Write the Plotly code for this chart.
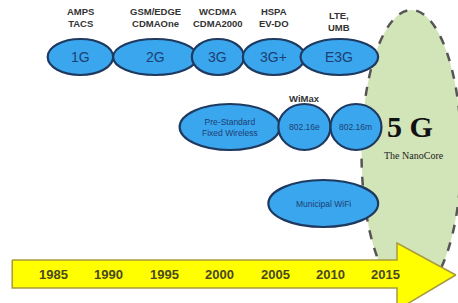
import plotly.graph_objects as go

# ---- data ----
years = [1985, 1990, 1995, 2000, 2005, 2010, 2015]

gen_names = ["1G", "2G", "3G", "3G+", "E3G"]
gen_start = [1984.5, 1990.4, 1997.5, 2002.1, 2007.3]
gen_end = [1990.4, 1998.0, 2002.2, 2007.7, 2014.3]
gen_tech = ["AMPS<br>TACS", "GSM/EDGE<br>CDMAOne", "WCDMA<br>CDMA2000", "HSPA<br>EV-DO", "LTE,<br>UMB"]

wimax_names = ["Pre-Standard<br>Fixed Wireless", "802.16e", "802.16m"]
wimax_start = [1996.4, 2005.3, 2010.0]
wimax_end = [2005.45, 2010.0, 2014.6]

wifi_names = ["Municipal WiFi"]
wifi_start = [2004.4]
wifi_end = [2014.3]

nano_start, nano_end = 2012.8, 2021.8
arrow_start, arrow_body_end, arrow_tip = 1981.3, 2016.0, 2021.3

# ---- layout helpers (pixel rows on a reversed y axis) ----
ROW_Y = {"gen": (39, 75), "wimax": (104, 150), "wifi": (180, 227)}
BLUE = "#3aa6ee"
NAVY = "#1f3a60"
TXT = "#1d3f73"
SANS = "Liberation Sans"
SERIF = "Liberation Serif"

fig = go.Figure()
shapes = []
ann = []

# 5G NanoCore region
shapes.append(dict(type="circle", xref="x", yref="y", x0=nano_start, x1=nano_end,
                   y0=10, y1=296, fillcolor="#d2e5b8",
                   line=dict(color="#555555", width=2.5, dash="dash"), layer="below"))

# timeline arrow
ay0, ay1, ah0, ah1, atip = 260, 288, 243, 310, 275
fig.add_trace(go.Scatter(
    x=[arrow_start, arrow_body_end, arrow_body_end, arrow_tip, arrow_body_end, arrow_body_end, arrow_start, arrow_start],
    y=[ay0, ay0, ah0, atip, ah1, ay1, ay1, ay0],
    mode="lines", fill="toself", fillcolor="#ffff00",
    line=dict(color="#a89a3c", width=1.5), hoverinfo="skip", showlegend=False))

for y in years:
    ann.append(dict(x=y, y=274, text=f"<b>{y}</b>", showarrow=False,
                    font=dict(family=SANS, size=13, color="#4a4820")))

def ellipses(names, starts, ends, row, size, bold):
    y0, y1 = ROW_Y[row]
    for n, s, e in zip(names, starts, ends):
        shapes.append(dict(type="circle", xref="x", yref="y", x0=s, x1=e, y0=y0, y1=y1,
                           fillcolor=BLUE, line=dict(color=NAVY, width=2.2)))
        t = f"<b>{n}</b>" if bold else n
        ann.append(dict(x=(s + e) / 2, y=(y0 + y1) / 2, text=t, showarrow=False,
                        font=dict(family=SANS, size=size, color=TXT)))

ellipses(gen_names, gen_start, gen_end, "gen", 14, False)
ellipses(wimax_names, wimax_start, wimax_end, "wimax", 8.5, False)
ellipses(wifi_names, wifi_start, wifi_end, "wifi", 8.5, False)

# technology labels above generations
for n, s, e in zip(gen_tech, gen_start, gen_end):
    yy = 21 if n.startswith("LTE") else 17
    ann.append(dict(x=(s + e) / 2, y=yy, text=f"<b>{n}</b>", showarrow=False,
                    font=dict(family=SANS, size=9.5, color="#333333")))
ann.append(dict(x=(wimax_start[1] + wimax_end[1]) / 2, y=98, text="<b>WiMax</b>", showarrow=False,
                font=dict(family=SANS, size=9.5, color="#333333")))

# 5G labels
ann.append(dict(x=(nano_start + nano_end) / 2 - 0.1, y=126, text="<b>5 G</b>", showarrow=False,
                font=dict(family=SERIF, size=30, color="#111111")))
ann.append(dict(x=(nano_start + nano_end) / 2 + 0.2, y=155, text="The NanoCore", showarrow=False,
                font=dict(family=SERIF, size=10, color="#222222")))

fig.update_layout(
    width=458, height=303, margin=dict(l=0, r=0, t=0, b=0),
    paper_bgcolor="white", plot_bgcolor="white",
    xaxis=dict(range=[1980.2, 2021.5], visible=False, fixedrange=True),
    yaxis=dict(range=[303, 0], visible=False, fixedrange=True),
    shapes=shapes, annotations=ann, showlegend=False)

fig.write_html("out.html", config={"displayModeBar": False},
               post_script="document.body.style.margin='0';document.body.style.overflow='hidden';")
